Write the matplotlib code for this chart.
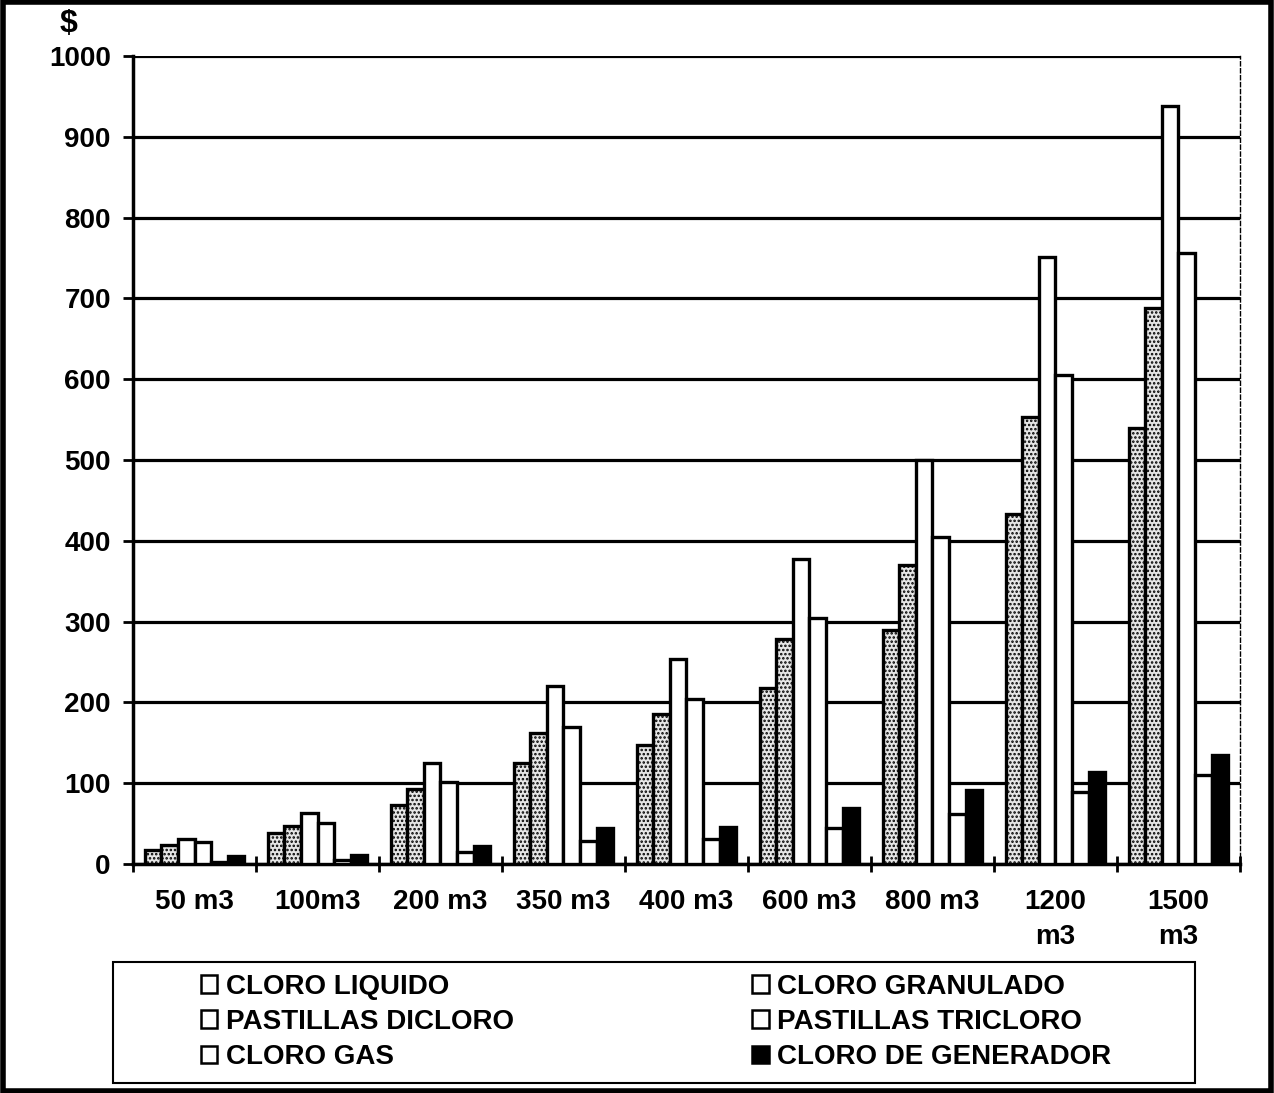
import matplotlib
matplotlib.use("Agg")
import matplotlib.pyplot as plt
import numpy as np
from matplotlib.patches import Patch, Rectangle

plt.rcParams['font.family'] = ['Liberation Sans', 'DejaVu Sans']
plt.rcParams['font.weight'] = 'bold'
plt.rcParams['hatch.color'] = '#8a8a8a'
plt.rcParams['hatch.linewidth'] = 1.2

categories = ["50 m3", "100m3", "200 m3", "350 m3", "400 m3", "600 m3", "800 m3", "1200\nm3", "1500\nm3"]
series_names = ["CLORO LIQUIDO", "CLORO GRANULADO", "PASTILLAS DICLORO",
                "PASTILLAS TRICLORO", "CLORO GAS", "CLORO DE GENERADOR"]
cloro_liquido = [17, 38, 73, 125, 147, 218, 290, 433, 540]
cloro_granulado = [24, 47, 93, 162, 186, 279, 370, 553, 688]
pastillas_dicloro = [31, 63, 125, 220, 254, 377, 500, 751, 938]
pastillas_tricloro = [27, 51, 101, 170, 204, 305, 405, 605, 756]
cloro_gas = [3, 5, 15, 28, 31, 45, 62, 89, 110]
cloro_generador = [10, 11, 22, 45, 46, 69, 92, 114, 135]
y_ticks = [0, 100, 200, 300, 400, 500, 600, 700, 800, 900, 1000]

series = [cloro_liquido, cloro_granulado, pastillas_dicloro,
          pastillas_tricloro, cloro_gas, cloro_generador]
faces = ['#e6e6e6', '#e6e6e6', 'white', 'white', 'white', 'black']
hatches = ['....', '....', None, None, None, None]

fig = plt.figure(figsize=(12.74, 10.93), dpi=100)
ax = fig.add_axes([0.1044, 0.2095, 0.8689, 0.7393])

n = len(categories)
x = np.arange(n)
w = 0.135
for k, (vals, fc, h) in enumerate(zip(series, faces, hatches)):
    off = (k - 2.5) * w
    ax.bar(x + off, vals, width=w, facecolor=fc, edgecolor='black',
           linewidth=2.4, hatch=h, zorder=3, label=series_names[k])

ax.set_xlim(-0.5, n - 0.5)
ax.set_ylim(0, 1000)
ax.set_yticks(y_ticks)
ax.set_yticklabels([str(v) for v in y_ticks], fontsize=20, fontweight='bold')
ax.yaxis.grid(True, color='black', linewidth=2.3)
ax.set_axisbelow(True)

ax.set_xticks(x)
ax.set_xticklabels(categories, fontsize=20, fontweight='bold', linespacing=1.45)
ax.set_xticks(np.arange(-0.5, n, 1), minor=True)
ax.tick_params(axis='x', which='major', length=0, pad=18)
ax.tick_params(axis='x', which='minor', length=12, width=2, direction='inout')
ax.tick_params(axis='y', length=7, width=2, pad=9)

for s in ['left', 'bottom']:
    ax.spines[s].set_linewidth(2.5)
ax.spines['top'].set_visible(False)
ax.spines['right'].set_linestyle((0, (3, 2)))
ax.spines['right'].set_linewidth(1)

fig.text(0.047, 0.978, r"\$", fontsize=23, fontweight='bold', ha='left', va='center')

# legend box
fig.add_artist(Rectangle((0.089, 0.009), 0.849, 0.111, transform=fig.transFigure,
                         fill=False, edgecolor='black', linewidth=1.5))

handles = [Patch(facecolor='white', edgecolor='black', linewidth=1.8) for _ in range(5)]
handles.append(Patch(facecolor='black', edgecolor='black', linewidth=1.8))
order = [0, 2, 4, 1, 3, 5]
leg = fig.legend([handles[i] for i in order], [series_names[i] for i in order],
                 ncol=2, loc='center', bbox_to_anchor=(0.515, 0.065),
                 frameon=False, labelspacing=0.33, columnspacing=8.6,
                 handlelength=0.6, handleheight=0.6, handletextpad=0.3,
                 borderaxespad=0, prop={'weight': 'bold', 'size': 20})

fig.add_artist(Rectangle((0.002, 0.002), 0.996, 0.996, transform=fig.transFigure,
                         fill=False, edgecolor='black', linewidth=4))

fig.savefig("out.png", dpi=100)
